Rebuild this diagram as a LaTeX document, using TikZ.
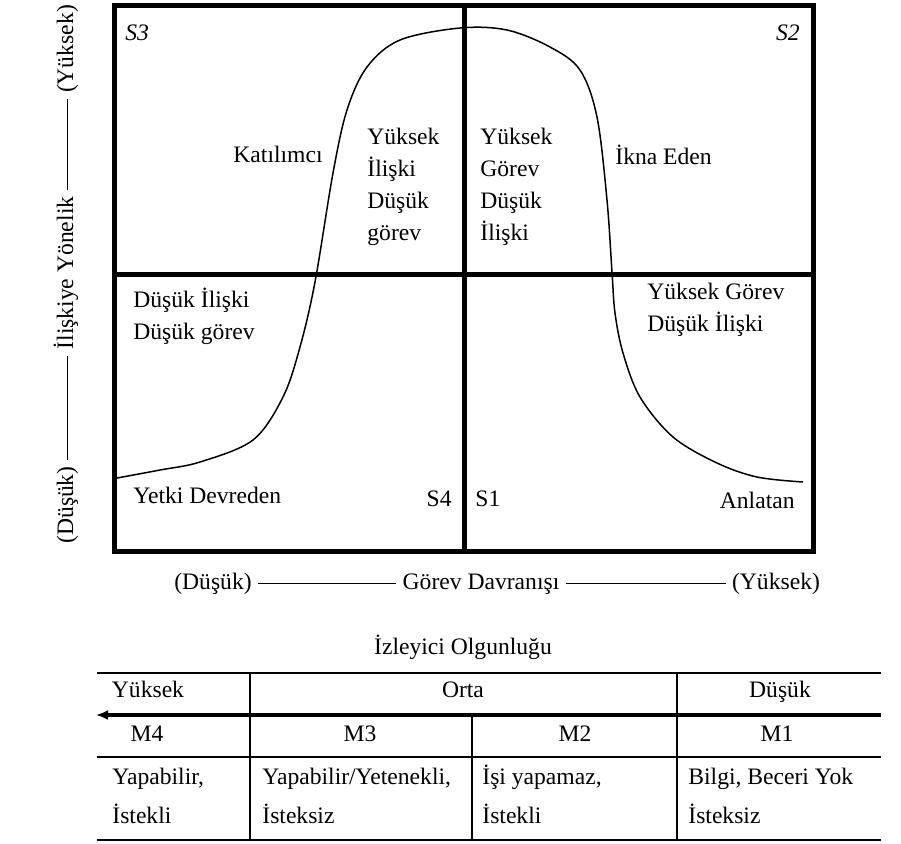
\documentclass[tikz,border=0pt]{standalone}
\usepackage{fontspec}
\setmainfont{Liberation Serif}
\usetikzlibrary{arrows.meta}
\tikzset{
  etiket/.style  = {font=\fontsize{11.8}{16}\selectfont, inner sep=0pt},
  tek/.style     = {etiket, text height=8.5pt, text depth=2.5pt},
  blok/.style    = {etiket, align=left, anchor=west},
  kose/.style    = {etiket, font=\fontsize{11.8}{16}\selectfont\itshape},
  eksen/.style   = {tek, inner sep=3pt},
  hucre/.style   = {etiket, font=\fontsize{11.8}{19.5}\selectfont, align=left, anchor=west},
  cerceve/.style = {line width=2.5pt},
  egri/.style    = {line width=0.75pt},
  ince/.style    = {line width=0.5pt},
  cizgi/.style   = {line width=0.6pt}
}

\begin{document}
\begin{tikzpicture}[x=0.5pt, y=-0.5pt]
  \useasboundingbox (0,0) rectangle (901,843);

  % dort bolge
  \draw[cerceve] (114.5,5.5) rectangle (813,551.5);
  \draw[cerceve] (464.5,5.5) -- (464.5,551.5);
  \draw[cerceve] (114.5,274.5) -- (813,274.5);

  % egri
  \draw[egri] plot[smooth, tension=0.55] coordinates {
    (117,478) (160,470) (200,462) (253,440) (283,397) (300,347) (315,282)
    (333,173) (347,110) (367,67) (400,40) (460,28) (507,30) (550,47)
    (580,70) (597,117) (607,200) (612,272) (615,313) (623,353) (640,397)
    (673,437) (717,463) (757,477) (803,482)};

  % bolge etiketleri
  \node[kose, anchor=west] (s3) at (125,33) {S3};
  \node[kose, anchor=east] (s2) at (800,33) {S2};
  \node[tek, anchor=east] (s4) at (452,500) {S4};
  \node[tek, anchor=west] (s1) at (475,500) {S1};

  \node[etiket] (katilimci) at (278,154) {Katılımcı};
  \node[blok] (yiliski) at (367,187) {Yüksek\\İlişki\\Düşük\\görev};
  \node[blok] (ygorev) at (480,185) {\vphantom{İ}Yüksek\\Görev\\Düşük\\İlişki};
  \node[blok] (ikna) at (615,155) {İkna Eden};
  \node[blok] (dusdus) at (133,316) {Düşük İlişki\\Düşük görev};
  \node[blok] (ygdi) at (647,310) {Yüksek Görev\\Düşük İlişki};
  \node[blok] (yetki) at (133,495) {Yetki Devreden};
  \node[tek, anchor=east] (anlatan) at (795,502) {Anlatan};

  % dikey eksen
  \node[eksen, rotate=90] (ylow)  at (67,505) {(Düşük)};
  \node[eksen, rotate=90] (ylab)  at (67,273) {İlişkiye Yönelik};
  \node[eksen, rotate=90] (yhigh) at (67,49)  {(Yüksek)};
  \draw[ince] (ylow.east) -- (ylab.west);
  \draw[ince] (ylab.east) -- (yhigh.west);

  % yatay eksen
  \node[eksen] (xlow)  at (213,583) {(Düşük)};
  \node[eksen] (xlab)  at (481,583) {Görev Davranışı};
  \node[eksen] (xhigh) at (776,583) {(Yüksek)};
  \draw[ince] (xlow.east) -- (xlab.west);
  \draw[ince] (xlab.east) -- (xhigh.west);

  % izleyici olgunlugu tablosu
  \node[tek] (baslik) at (463,648) {İzleyici Olgunluğu};

  \draw[line width=1pt] (97,673) -- (881,673);
  \draw[line width=2pt, -{Latex[length=6pt, width=5pt]}] (881,715) -- (96,715);
  \draw[cizgi] (97,757) -- (881,757);
  \draw[cizgi] (97,840) -- (881,840);
  \draw[cizgi] (250,673) -- (250,840);
  \draw[cizgi] (677,673) -- (677,840);
  \draw[cizgi] (472,715) -- (472,840);

  \node[tek] (yuksek) at (148,691) {Yüksek};
  \node[tek] (orta)   at (463,691) {Orta};
  \node[tek] (dusuk)  at (780,691) {Düşük};

  \node[tek] (m4) at (147,735) {M4};
  \node[tek] (m3) at (360,735) {M3};
  \node[tek] (m2) at (575,735) {M2};
  \node[tek] (m1) at (777,735) {M1};

  \node[hucre] (h4) at (112,794) {\vphantom{İ}Yapabilir,\\İstekli};
  \node[hucre] (h3) at (262,794) {\vphantom{İ}Yapabilir/Yetenekli,\\İsteksiz};
  \node[hucre] (h2) at (482,794) {İşi yapamaz,\\İstekli};
  \node[hucre] (h1) at (688,794) {\vphantom{İ}Bilgi, Beceri Yok\\İsteksiz};

\end{tikzpicture}
\end{document}
